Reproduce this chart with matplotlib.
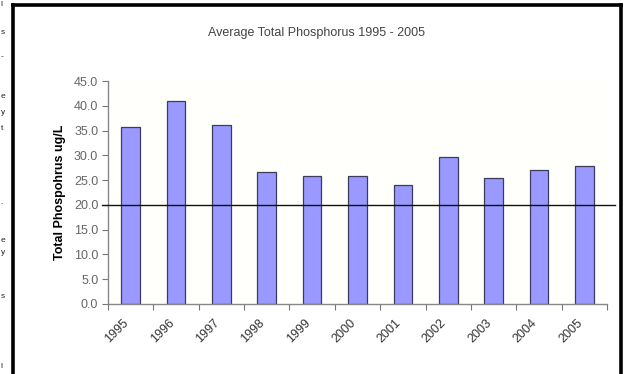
import matplotlib
matplotlib.use("Agg")
import matplotlib.pyplot as plt
import matplotlib.transforms as mtransforms
from matplotlib.lines import Line2D

plt.rcParams['font.family'] = ['Liberation Sans', 'DejaVu Sans']

years = ['1995', '1996', '1997', '1998', '1999', '2000',
         '2001', '2002', '2003', '2004', '2005']
phosphorus = [35.7, 41.0, 36.1, 26.6, 25.8, 25.8, 24.0, 29.7, 25.5, 27.0, 27.8]
target = 20.0
yticks = [0, 5, 10, 15, 20, 25, 30, 35, 40, 45]

fig = plt.figure(figsize=(6.24, 3.74), dpi=100)
fig.patch.set_facecolor('white')

ax = fig.add_axes([108 / 624, 1 - 304 / 374, 499 / 624, 223 / 374])
ax.set_facecolor('#fffffb')

x = list(range(len(years)))
ax.bar(x, phosphorus, width=0.41, color='#9999ff', edgecolor='#3c3c5a', linewidth=0.9, zorder=2)

# reference level, drawn a little past both ends of the axis
ax.plot([-0.012, 1.016], [target, target], color='#111111', lw=1.0,
        transform=ax.get_yaxis_transform(), clip_on=False, zorder=3)

ax.set_xlim(-0.5, len(years) - 0.5)
ax.set_ylim(0, 45)
ax.set_yticks(yticks)
ax.set_yticklabels(['%.1f' % v for v in yticks], fontsize=9, color='#666666')
ax.set_xticks([i - 0.5 for i in range(len(years) + 1)])
ax.set_xticklabels([])
ax.set_xticks(x, minor=True)
ax.set_xticklabels(years, minor=True, rotation=45, ha='right', va='top',
                   rotation_mode='anchor', fontsize=9, color='#333333')
ax.tick_params(axis='x', which='minor', length=0, pad=9)
ax.tick_params(axis='x', which='major', length=4, color='#777777', direction='out')
ax.tick_params(axis='y', length=4, color='#777777', direction='out', pad=3)

# nudge the rotated year labels a bit to the left
shift = mtransforms.ScaledTranslation(-8 / 100, 0, fig.dpi_scale_trans)
for lbl in ax.get_xticklabels(minor=True):
    lbl.set_transform(lbl.get_transform() + shift)

for side in ['top', 'right']:
    ax.spines[side].set_visible(False)
for side in ['left', 'bottom']:
    ax.spines[side].set_color('#888888')
    ax.spines[side].set_linewidth(1.0)

ax.set_ylabel('Total Phospohrus ug/L', fontsize=9, fontweight='bold', labelpad=6)

fig.text(316 / 624, 1 - 33 / 374, 'Average Total Phosphorus 1995 - 2005',
         ha='center', va='center', fontsize=9, color='#444444')

# black frame around the chart
def px(xp, yp):
    return xp / 624, 1 - yp / 374

for (x0, y0), (x1, y1) in [((12.5, 380), (12.5, 4.5)),
                           ((12.5, 4.5), (620.5, 4.5)),
                           ((620.5, 4.5), (620.5, 380))]:
    a, b = px(x0, y0)
    c, d = px(x1, y1)
    fig.add_artist(Line2D([a, c], [b, d], color='black', lw=2.6,
                          transform=fig.transFigure, solid_capstyle='projecting'))

# letters of the neighbouring text column at the left margin
edge_chars = [('l', 5), ('s', 33), ('-', 57), ('e', 97), ('y', 112), ('t', 128),
              ('.', 202), ('e', 240), ('y', 253), ('s', 297), ('l', 366)]
for ch, yp in edge_chars:
    fig.text(0.5 / 624, 1 - yp / 374, ch, ha='left', va='center',
             fontsize=6, color='#222222')

fig.savefig('out.png', dpi=100)
